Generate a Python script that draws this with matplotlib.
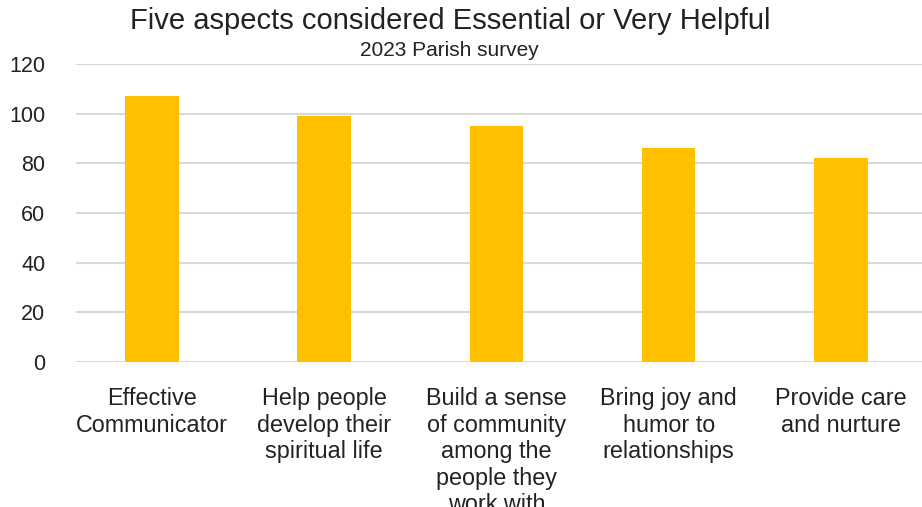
import matplotlib
matplotlib.use("Agg")
import matplotlib.pyplot as plt

categories = [
    "Effective\nCommunicator",
    "Help people\ndevelop their\nspiritual life",
    "Build a sense\nof community\namong the\npeople they\nwork with",
    "Bring joy and\nhumor to\nrelationships",
    "Provide care\nand nurture",
]
values = [107, 99, 95, 86, 82]
yticks = [0, 20, 40, 60, 80, 100, 120]

plt.rcParams['font.family'] = ['Liberation Sans', 'DejaVu Sans']

fig = plt.figure(figsize=(9.22, 5.07), dpi=100)
ax = fig.add_axes([76/922, 145/507, (922-76)/922, 298/507])

x = list(range(len(categories)))
ax.bar(x, values, width=0.31, color="#FFC000", zorder=3)

ax.set_ylim(0, 120)
ax.set_xlim(-0.44, 4.47)
ax.set_yticks(yticks)
ax.set_yticklabels([str(t) for t in yticks], fontsize=15.5, color="#222222")
ax.yaxis.grid(True, color="#d9d9d9", linewidth=1.5, zorder=0)
ax.set_axisbelow(True)
ax.tick_params(axis='y', length=0, pad=22)
ax.tick_params(axis='x', length=0, pad=18)
ax.set_xticks(x)
ax.set_xticklabels(categories, fontsize=16.8, color="#222222", linespacing=1.2)
for s in ax.spines.values():
    s.set_visible(False)

fig.text(450/922, 1 - 21/507, "Five aspects considered Essential or Very Helpful",
         ha="center", va="center", fontsize=21, color="#222222")
fig.text(449/922, 1 - 51/507, "2023 Parish survey",
         ha="center", va="center", fontsize=15, color="#222222")

fig.savefig("out.png", dpi=100)
